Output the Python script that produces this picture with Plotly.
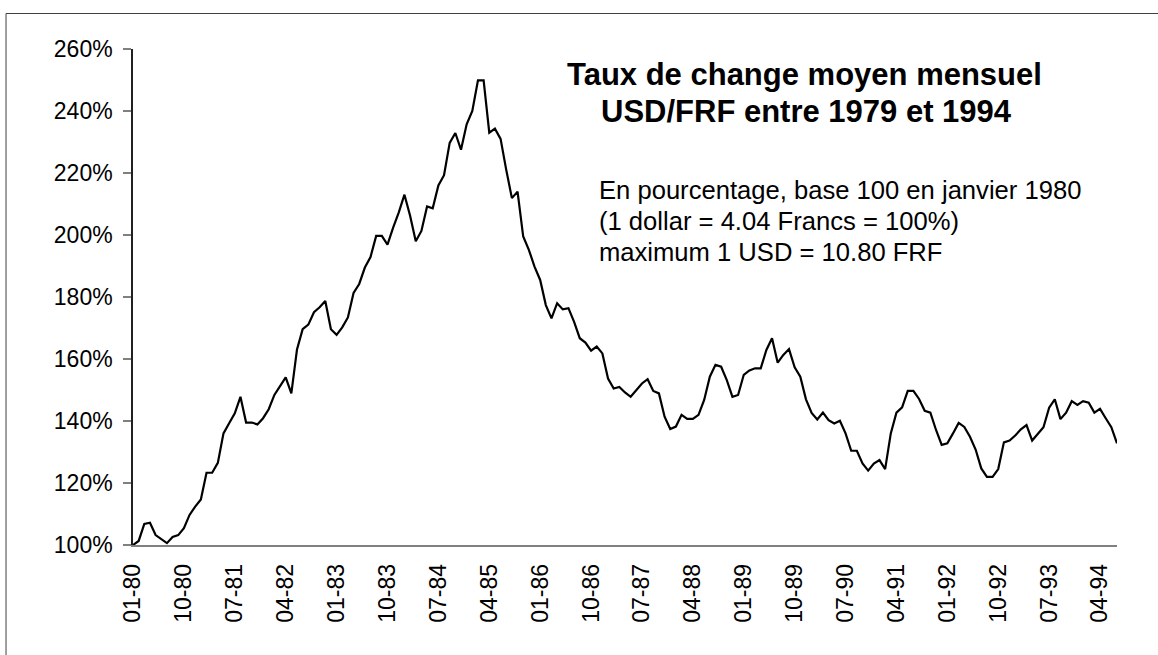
import plotly.graph_objects as go

# Monthly labels 01-80 .. 07-94
months = []
for y in range(1980, 1995):
    for m in range(1, 13):
        months.append(f"{m:02d}-{y % 100:02d}")
months = months[:175]

values = [100, 101.3, 106.8, 107.2, 103.2, 101.9, 100.6, 102.6, 103.2, 105.4,
          109.7, 112.4, 114.7, 123.3, 123.3, 126.5, 136, 139.3, 142.5, 147.8,
          139.5, 139.5, 138.9, 140.9, 143.8, 148.4, 151.3, 154.1, 148.9, 163.1,
          169.6, 171.1, 175.1, 176.7, 178.7, 169.6, 167.8, 170.2, 173.4, 181.3,
          184.2, 189.5, 192.9, 199.7, 199.7, 196.9, 202.4, 207.3, 213, 206.2,
          198, 201.3, 209.2, 208.6, 216, 219.3, 229.7, 232.9, 227.5, 235.7,
          240, 249.9, 249.9, 233, 234.3, 231, 221, 211.9, 214, 199.5,
          195.2, 189.8, 185.5, 177.4, 173.1, 178, 176, 176.4, 172, 166.7,
          165.3, 162.7, 164, 161.8, 153.7, 150.5, 151, 149.2, 147.8, 150,
          152.1, 153.5, 149.7, 148.9, 141.4, 137.4, 138.2, 142, 140.7, 140.7,
          142, 146.8, 154.3, 158.1, 157.5, 153.2, 147.8, 148.4, 154.9, 156.3,
          157, 157, 162.9, 166.7, 158.8, 161.3, 163.2, 157.3, 154.3, 147,
          142.6, 140.5, 142.7, 140.3, 139.2, 140.1, 136, 130.4, 130.4, 126.3,
          124, 126.3, 127.4, 124.5, 136, 142.7, 144.4, 149.7, 149.7, 147.1,
          143.3, 142.7, 137.1, 132.3, 132.8, 136, 139.4, 138.1, 134.9, 130.8,
          124.7, 122, 122, 124.5, 133.1, 133.7, 135.3, 137.3, 138.7, 133.7,
          135.8, 138, 144.3, 147, 140.6, 142.7, 146.4, 145.2, 146.4, 145.9,
          142.7, 143.9, 140.9, 138, 132.8]

x_tick_labels = months[::9]
y_ticks = [100, 120, 140, 160, 180, 200, 220, 240, 260]
y_tick_text = [f"{v}%" for v in y_ticks]

title_lines = ["Taux de change moyen mensuel", "USD/FRF entre 1979 et 1994"]
note_lines = ["En pourcentage, base 100 en janvier 1980",
              "(1 dollar = 4.04 Francs = 100%)",
              "maximum 1 USD = 10.80 FRF"]

W, H = 1158, 655
L, R, T, B = 132.5, 1116.7, 49, 545
FONT = "Arial, Liberation Sans, sans-serif"


def px(xs):
    return (xs - L) / (R - L)


def py(ys):
    return (B - ys) / (B - T)


fig = go.Figure()
fig.add_trace(go.Scatter(x=months, y=values, mode="lines",
                         line=dict(color="black", width=2.2),
                         hoverinfo="skip", showlegend=False))

annotations = []
for txt, yc, xc in zip(title_lines, [74, 111], [804, 806]):
    annotations.append(dict(text=f"<b>{txt}</b>", x=px(xc), y=py(yc), xref="paper", yref="paper",
                            xanchor="center", yanchor="middle", showarrow=False,
                            font=dict(family=FONT, size=31, color="black")))
for txt, yc in zip(note_lines, [190, 221, 252]):
    annotations.append(dict(text=txt, x=px(597), y=py(yc), xref="paper", yref="paper",
                            xanchor="left", yanchor="middle", showarrow=False,
                            font=dict(family=FONT, size=25.6, color="black")))

fig.update_layout(
    width=W, height=H,
    margin=dict(l=L, r=W - R, t=T, b=H - B, pad=0),
    paper_bgcolor="white", plot_bgcolor="white",
    font=dict(family=FONT, size=23, color="black"),
    annotations=annotations,
    shapes=[dict(type="rect", xref="paper", yref="paper",
                 x0=px(5.5), x1=px(1250), y0=py(750), y1=py(13.5),
                 line=dict(color="#404040", width=1), fillcolor="rgba(0,0,0,0)", layer="below")],
    xaxis=dict(type="category", range=[0, len(months) - 1],
               tickvals=x_tick_labels, ticktext=x_tick_labels, tickangle=-90,
               showgrid=False, zeroline=False, showline=True, linecolor="#808080", linewidth=1.5,
               ticks="", ticklabelstandoff=8, tickfont=dict(size=23)),
    yaxis=dict(range=[100, 260], tickvals=y_ticks, ticktext=y_tick_text,
               showgrid=False, zeroline=False, showline=True, linecolor="#202020", linewidth=1.5,
               ticks="outside", ticklen=8, tickcolor="#808080", tickwidth=1.5,
               ticklabelstandoff=6, tickfont=dict(size=23)),
)

fig.write_html("out.html", config={"displayModeBar": False},
               post_script="document.body.style.margin='0px';document.body.style.overflow='hidden';")
